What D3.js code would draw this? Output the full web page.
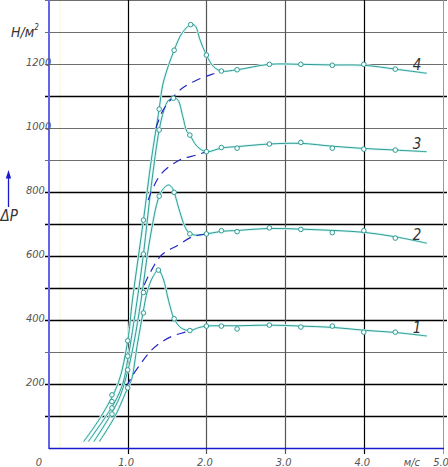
<!DOCTYPE html>
<html><head><meta charset="utf-8">
<script src="https://cdn.jsdelivr.net/npm/d3@7"></script>
<style>
html,body{margin:0;padding:0;background:#fff;}
svg{display:block;}
text{font-family:"Liberation Sans Narrow","DejaVu Sans Condensed","Liberation Sans",sans-serif;font-style:italic;}
</style></head>
<body>
<svg id="c" width="448" height="467"></svg>
<script>
// ---- data ----
const xTicks = [0, 1, 2, 3, 4, 5];
const xTickLabels = ["0", "1.0", "2.0", "3.0", "4.0", "5.0"];
const xUnit = "м/с";
const yGrid = [0, 100, 200, 300, 400, 500, 600, 700, 800, 900, 1000, 1100, 1200, 1300, 1400];
const yTickValues = [200, 400, 600, 800, 1000, 1200];
const yTickLabels = ["200", "400", "600", "800", "1000", "1200"];
const yUnit = "Н/м";
const yTitle = "ΔP";
const curveNames = ["1", "2", "3", "4"];

// curve lines [velocity m/s, pressure N/m²]
const curve1 = [[0.64,20],[0.84,100],[1.0,188],[1.05,215],[1.12,320],[1.2,430],[1.25,490],[1.32,535],[1.39,556],[1.45,530],[1.52,460],[1.59,404],[1.68,375],[1.79,367],[1.9,376],[2.0,381],[2.2,382],[2.4,382],[2.8,384],[3.2,381],[3.6,377],[4.0,368],[4.4,361],[4.8,350]];
const curve2 = [[0.57,20],[0.77,98],[0.9,160],[1.0,240],[1.08,330],[1.17,462],[1.28,650],[1.4,787],[1.47,815],[1.52,822],[1.56,815],[1.59,799],[1.66,740],[1.73,690],[1.79,670],[1.9,665],[2.0,669],[2.2,677],[2.4,680],[2.8,686],[3.2,684],[3.6,680],[4.0,674],[4.4,660],[4.8,640]];
const curve3 = [[0.50,20],[0.72,98],[0.85,150],[0.94,203],[1.0,275],[1.12,462],[1.2,606],[1.3,820],[1.4,994],[1.46,1055],[1.52,1087],[1.6,1093],[1.64,1087],[1.7,1036],[1.75,990],[1.79,978],[1.88,943],[2.0,926],[2.2,938],[2.4,942],[2.8,950],[3.2,952],[3.6,943],[4.0,936],[4.4,931],[4.8,926]];
const curve4 = [[0.44,20],[0.66,98],[0.88,203],[1.0,335],[1.06,462],[1.2,712],[1.3,900],[1.4,1059],[1.45,1140],[1.59,1243],[1.69,1296],[1.8,1323],[1.855,1320],[1.92,1275],[2.0,1228],[2.09,1192],[2.19,1178],[2.39,1182],[2.8,1199],[3.2,1199],[3.6,1197],[4.0,1196],[4.4,1184],[4.8,1171]];

// measured points (circles)
const points1 = [[0.8,106],[1.0,188],[1.2,422],[1.39,556],[1.59,404],[1.79,367],[2.0,381],[2.19,381],[2.39,372],[2.8,384],[3.2,378],[3.6,381],[4.0,362],[4.4,362]];
const points2 = [[0.8,125],[1.0,244],[1.2,486],[1.4,787],[1.59,799],[1.79,669],[2.0,669],[2.19,679],[2.39,676],[2.8,688],[3.2,683],[3.6,673],[4.0,679],[4.4,656]];
const points3 = [[0.8,145],[1.0,287],[1.2,606],[1.4,994],[1.58,1093],[1.79,978],[2.0,926],[2.19,939],[2.39,937],[2.8,950],[3.2,955],[3.6,937],[4.0,934],[4.4,931]];
const points4 = [[0.8,166],[1.0,335],[1.2,712],[1.4,1059],[1.59,1243],[1.8,1323],[2.0,1228],[2.19,1178],[2.39,1182],[2.8,1199],[3.2,1199],[3.6,1196],[4.0,1199],[4.4,1184]];

// dashed approach curves
const dashed1 = [[0.98,190],[1.05,222],[1.17,265],[1.28,300],[1.41,328],[1.57,350],[1.73,362],[1.79,367]];
const dashed2 = [[1.21,509],[1.29,550],[1.43,603],[1.64,634],[1.83,661],[2.0,669]];
const dashed3 = [[1.26,775],[1.33,817],[1.43,858],[1.66,900],[1.88,916],[2.0,926]];
const dashed4 = [[1.36,1000],[1.45,1056],[1.62,1108],[1.71,1127],[1.88,1150],[2.05,1166],[2.19,1178]];

// ---- drawing ----
const svg = d3.select("#c");
const x = d3.scaleLinear().domain([0, 5]).range([49, 442.5]);
const y = d3.scaleLinear().domain([0, 1400]).range([448, 0]);

svg.append("rect").attr("width", 448).attr("height", 467).attr("fill", "#fff");

// faint yellow guide
svg.append("line").attr("x1", 60).attr("x2", 60).attr("y1", 0).attr("y2", 448)
  .attr("stroke", "#fff6c8").attr("stroke-width", 1);

// horizontal grid
const lightRows = new Set([0, 1400, 1300, 1200, 1000, 900, 300]);
svg.append("g").selectAll("line").data(yGrid.filter(d => d > 0)).join("line")
  .attr("x1", 45).attr("x2", 447)
  .attr("y1", d => Math.round(y(d)) + 0.5).attr("y2", d => Math.round(y(d)) + 0.5)
  .attr("stroke", d => lightRows.has(d) ? "#6e6e6e" : "#000")
  .attr("stroke-width", d => lightRows.has(d) ? 1 : 1.3);

// vertical grid
const colStroke = {1: "#000", 2: "#555", 3: "#555", 4: "#000", 5: "#999"};
svg.append("g").selectAll("line").data(xTicks.filter(d => d > 0)).join("line")
  .attr("x1", d => Math.round(x(d)) + 0.5).attr("x2", d => Math.round(x(d)) + 0.5)
  .attr("y1", 0).attr("y2", 454)
  .attr("stroke", d => colStroke[d]).attr("stroke-width", d => d === 5 ? 1 : 1.2);

// axes
svg.append("line").attr("x1", 49).attr("x2", 49).attr("y1", 0).attr("y2", 449)
  .attr("stroke", "#6464e6").attr("stroke-width", 2);
svg.append("line").attr("x1", 49).attr("x2", 444).attr("y1", 448.5).attr("y2", 448.5)
  .attr("stroke", "#1a1acc").attr("stroke-width", 1.3);

// y labels
svg.append("g").selectAll("text").data(yTickValues).join("text")
  .attr("x", 26).attr("y", d => y(d) + 1.5)
  .attr("font-size", 11).attr("fill", "#555")
  .text((d, i) => yTickLabels[i]);

// x labels
svg.append("g").selectAll("text").data(xTicks).join("text")
  .attr("x", d => d === 0 ? x(d) - 10 : x(d) - 1.5).attr("y", 465.5)
  .attr("text-anchor", "middle")
  .attr("font-size", 11).attr("fill", "#555")
  .text((d, i) => xTickLabels[i]);
svg.append("text").attr("x", x(4.61)).attr("y", 465.5).attr("text-anchor", "middle")
  .attr("font-size", 11).attr("fill", "#555").text(xUnit);

// y unit
const yu = svg.append("text").attr("x", 11).attr("y", 36.5).attr("font-size", 14).attr("fill", "#333");
yu.append("tspan").text(yUnit);
yu.append("tspan").attr("dy", -7).attr("font-size", 8).text("2");

// ΔP with arrow
svg.append("text").attr("x", 0.5).attr("y", 220.5).attr("font-size", 15).attr("fill", "#333").text(yTitle);
svg.append("line").attr("x1", 8.5).attr("x2", 8.5).attr("y1", 207).attr("y2", 177)
  .attr("stroke", "#1a1acc").attr("stroke-width", 1.3);
svg.append("path").attr("d", "M8.5,170 L5.8,178.5 L11.2,178.5 Z").attr("fill", "#1a1acc");

// curves
const lineGen = d3.line().x(d => x(d[0])).y(d => y(d[1])).curve(d3.curveCatmullRom.alpha(0.5));
const curves = [curve1, curve2, curve3, curve4];
const points = [points1, points2, points3, points4];
const dashes = [dashed1, dashed2, dashed3, dashed4];

const gC = svg.append("g");
curves.forEach(c => {
  gC.append("path").attr("d", lineGen(c)).attr("fill", "none")
    .attr("stroke", "#d6f7f5").attr("stroke-width", 2.6).attr("stroke-linejoin", "round");
});
curves.forEach(c => {
  gC.append("path").attr("d", lineGen(c)).attr("fill", "none")
    .attr("stroke", "#2f9a92").attr("stroke-width", 1).attr("stroke-linejoin", "round");
});
dashes.forEach(c => {
  gC.append("path").attr("d", lineGen(c)).attr("fill", "none")
    .attr("stroke", "#2626c4").attr("stroke-width", 1.2).attr("stroke-dasharray", "9,6");
});
points.forEach(p => {
  gC.append("g").selectAll("circle").data(p).join("circle")
    .attr("cx", d => x(d[0])).attr("cy", d => y(d[1])).attr("r", 2.3)
    .attr("fill", "#f4fffe").attr("stroke", "#2f9a92").attr("stroke-width", 1);
});

// curve labels
svg.append("g").selectAll("text").data(curves).join("text")
  .attr("x", d => x(d[d.length - 1][0]) - 14)
  .attr("y", d => y(d[d.length - 1][1]) - 3)
  .attr("font-size", 15).attr("fill", "#333")
  .text((d, i) => curveNames[i]);
</script>
</body></html>
